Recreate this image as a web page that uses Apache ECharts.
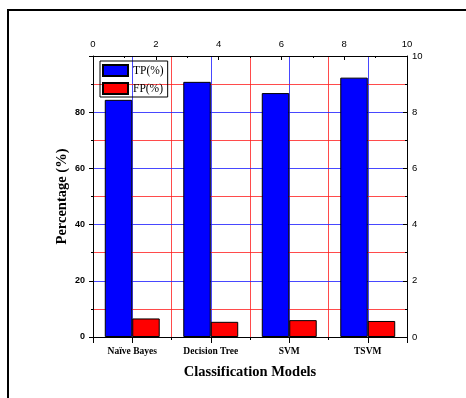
<!DOCTYPE html>
<html>
<head>
<meta charset="utf-8">
<script src="https://cdn.jsdelivr.net/npm/echarts@6/dist/echarts.min.js"></script>
<style>html,body{margin:0;padding:0;background:#fff;overflow:hidden;}#c{width:466px;height:398px;}</style>
</head>
<body>
<div id="c"></div>
<script>
const categories = ['Naïve Bayes', 'Decision Tree', 'SVM', 'TSVM'];
const seriesNames = ['TP(%)', 'FP(%)'];
const tpValues = [84.4, 90.8, 86.8, 92.3];
const fpValues = [6.6, 5.4, 6.0, 5.7];
const leftAxisRange = [0, 100, 20];
const secondaryAxisRange = [0, 10, 2];

const serif = '"Liberation Serif", "Times New Roman", serif';
const sans = '"Liberation Sans", Arial, sans-serif';
const BLUE_GRID = 'rgba(40,40,255,0.85)';
const RED_GRID = 'rgba(255,30,30,0.8)';

const chart = echarts.init(document.getElementById('c'), null, {renderer: 'canvas'});
chart.setOption({
  backgroundColor: '#fff',
  animation: false,
  grid: {left: 93, right: 59, top: 56, bottom: 61},
  graphic: [
    {type: 'line', shape: {x1: 8, y1: 9, x2: 8, y2: 398}, style: {stroke: '#000', lineWidth: 2}, silent: true},
    {type: 'line', shape: {x1: 7, y1: 10, x2: 466, y2: 10}, style: {stroke: '#000', lineWidth: 2}, silent: true}
  ],
  legend: {
    left: 100, top: 61, orient: 'vertical',
    itemWidth: 25, itemHeight: 11, itemGap: 5,
    padding: [3, 4, 2, 2],
    borderColor: '#000', borderWidth: 1,
    textStyle: {fontFamily: serif, fontSize: 11.5, color: '#000', lineHeight: 11},
    icon: 'rect',
    data: seriesNames
  },
  xAxis: [
    {
      type: 'category', data: categories, position: 'bottom', z: 1,
      axisLine: {lineStyle: {color: '#000', width: 1}},
      axisTick: {show: true, length: 3, alignWithLabel: false, lineStyle: {color: '#000'}},
      axisLabel: {fontFamily: serif, fontWeight: 'bold', fontSize: 9.5, color: '#000', margin: 10},
      splitLine: {show: true, showMinLine: false, showMaxLine: false, lineStyle: {color: RED_GRID, width: 1}},
      name: 'Classification Models', nameLocation: 'middle', nameGap: 28, nameMoveOverlap: false,
      nameTextStyle: {fontFamily: serif, fontWeight: 'bold', fontSize: 14.5, color: '#000'}
    },
    {
      type: 'value', min: 0.5, max: 4.5, splitNumber: 4, minInterval: 1, maxInterval: 1,
      position: 'bottom', z: 1,
      axisLine: {show: false},
      axisTick: {show: true, length: 6, lineStyle: {color: '#000'}},
      axisLabel: {show: false},
      splitLine: {show: true, showMinLine: false, showMaxLine: false, lineStyle: {color: BLUE_GRID, width: 1}}
    },
    {
      type: 'value', min: secondaryAxisRange[0], max: secondaryAxisRange[1], interval: secondaryAxisRange[2],
      position: 'top', z: 3,
      axisLine: {show: true, onZero: false, lineStyle: {color: '#000', width: 1}},
      axisTick: {show: true, inside: true, length: 4, lineStyle: {color: '#000'}},
      minorTick: {show: true, splitNumber: 2, length: 2, lineStyle: {color: '#000'}},
      axisLabel: {fontFamily: sans, fontSize: 9.5, color: '#000', margin: 7},
      splitLine: {show: false}
    }
  ],
  yAxis: [
    {
      type: 'value', min: leftAxisRange[0], max: leftAxisRange[1], interval: leftAxisRange[2],
      position: 'left', z: 2,
      axisLine: {show: true, onZero: false, lineStyle: {color: '#000', width: 1}},
      axisTick: {show: true, length: 4, lineStyle: {color: '#000'}},
      minorTick: {show: true, splitNumber: 2, length: 2, lineStyle: {color: '#000'}},
      axisLabel: {fontFamily: sans, fontWeight: 'bold', fontSize: 9, color: '#000', margin: 8, showMaxLabel: false},
      splitLine: {show: true, showMinLine: false, showMaxLine: false, lineStyle: {color: BLUE_GRID, width: 1}},
      minorSplitLine: {show: true, lineStyle: {color: RED_GRID, width: 1}},
      name: 'Percentage (%)', nameLocation: 'middle', nameGap: 23, nameMoveOverlap: false,
      nameTextStyle: {fontFamily: serif, fontWeight: 'bold', fontSize: 14.5, color: '#000'}
    },
    {
      type: 'value', min: secondaryAxisRange[0], max: secondaryAxisRange[1], interval: secondaryAxisRange[2],
      position: 'right', z: 3,
      axisLine: {show: true, onZero: false, lineStyle: {color: '#000', width: 1}},
      axisTick: {show: true, inside: true, length: 4, lineStyle: {color: '#000'}},
      minorTick: {show: true, splitNumber: 2, length: 2, lineStyle: {color: '#000'}},
      axisLabel: {fontFamily: sans, fontSize: 9.5, color: '#000', margin: 5},
      splitLine: {show: false}
    }
  ],
  series: [
    {
      name: seriesNames[0], type: 'bar', xAxisIndex: 0, yAxisIndex: 0,
      data: tpValues, barWidth: '35%', barGap: '0%', z: 5,
      itemStyle: {color: '#0000ff', borderColor: '#000', borderWidth: 1}
    },
    {
      name: seriesNames[1], type: 'bar', xAxisIndex: 0, yAxisIndex: 0,
      data: fpValues, barWidth: '35%', barGap: '0%', z: 5,
      itemStyle: {color: '#ff0000', borderColor: '#000', borderWidth: 1}
    }
  ]
});
</script>
</body>
</html>
